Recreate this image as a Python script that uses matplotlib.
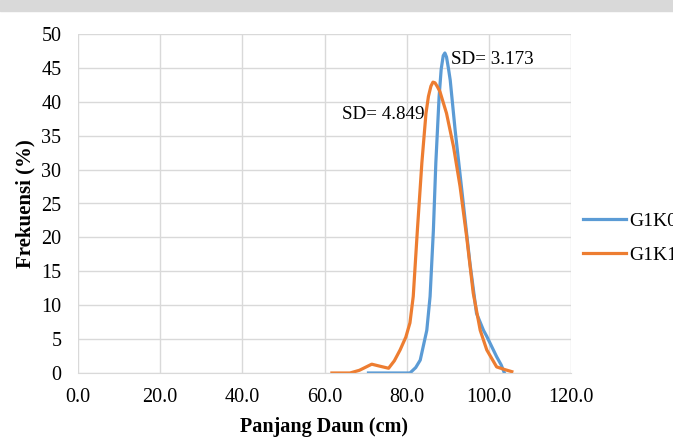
import matplotlib
matplotlib.use("Agg")
import matplotlib.pyplot as plt
from matplotlib.patches import Rectangle

# data
g1k0_x = [70.7, 74.0, 78.4, 80.8, 82.2, 83.3, 84.9, 85.7, 86.5, 87.1, 87.9, 88.4, 88.9, 89.3,
          89.7, 90.2, 90.6, 91.8, 93.6, 95.4, 97.0, 98.7, 99.5, 101.1, 101.9, 103.0, 103.8]
g1k0_y = [0, 0, 0, 0, 0.8, 1.9, 6.3, 11.3, 21, 31, 40.8, 44.8, 46.8, 47.2,
          46.6, 44.8, 43.2, 35.8, 26, 16.2, 8.8, 6.3, 5.4, 3.4, 2.4, 1.2, 0]

g1k1_x = [61.8, 66.2, 68.5, 71.5, 73.5, 75.6, 77.0, 78.4, 79.8, 80.8, 81.6, 82.6, 83.7,
          84.7, 85.3, 85.9, 86.4, 86.9, 87.5, 88.1, 89.7, 91.4, 93.0, 94.6, 96.2, 97.9,
          99.5, 101.9, 103.9, 105.6]
g1k1_y = [0, 0, 0.4, 1.3, 1.0, 0.7, 1.8, 3.4, 5.3, 7.4, 11.3, 21, 31,
          38.3, 40.8, 42.3, 42.9, 42.8, 42.2, 41.5, 38.3, 33.4, 27.5, 20.1, 11.8, 6.3,
          3.4, 0.9, 0.5, 0.2]

labels = ["G1K0", "G1K1"]
sd_texts = ["SD= 3.173", "SD= 4.849"]

blue = "#5B9BD5"
orange = "#ED7D31"
grid_c = "#D9D9D9"

plt.rcParams['font.family'] = ['Liberation Serif', 'DejaVu Serif']

fig = plt.figure(figsize=(6.73, 4.4), dpi=100)
ax = fig.add_axes([78/673, 1 - 373/440, (571 - 78)/673, (373 - 34)/440])

ax.plot(g1k0_x, g1k0_y, color=blue, lw=2.3, label=labels[0], solid_joinstyle='round')
ax.plot(g1k1_x, g1k1_y, color=orange, lw=2.3, label=labels[1], solid_joinstyle='round')

ax.set_xlim(0, 120)
ax.set_ylim(0, 50)
ax.set_xticks(range(0, 121, 20))
ax.set_xticklabels(["%.1f" % v for v in range(0, 121, 20)])
ax.set_yticks(range(0, 51, 5))
ax.grid(True, color=grid_c, lw=1)
ax.set_axisbelow(True)
for s in ["left", "top", "right"]:
    ax.spines[s].set_visible(False)
ax.spines["bottom"].set_color(grid_c)
ax.tick_params(axis="both", length=0, labelsize=14.5)
ax.tick_params(axis="y", pad=12)
ax.tick_params(axis="x", pad=11)

ax.set_xlabel("Panjang Daun (cm)", fontsize=14.5, fontweight="bold", labelpad=7)
ax.set_ylabel("Frekuensi (%)", fontsize=15, fontweight="bold", labelpad=4)

ax.text(90.8, 46.2, sd_texts[0], fontsize=13.7, ha="left", va="center")
ax.text(64.2, 38.1, sd_texts[1], fontsize=13.7, ha="left", va="center")

ax.legend(loc="center left", bbox_to_anchor=(583/673, 1 - 238/440),
          bbox_transform=fig.transFigure, frameon=False, fontsize=14,
          handlelength=2.2, handletextpad=0.2, labelspacing=0.85,
          borderpad=0, borderaxespad=0)

# grey band at the top of the page
fig.patches.append(Rectangle((0, 1 - 11/440), 1, 11/440, transform=fig.transFigure,
                             color="#D9D9D9", zorder=0))

fig.savefig("out.png", dpi=100)
